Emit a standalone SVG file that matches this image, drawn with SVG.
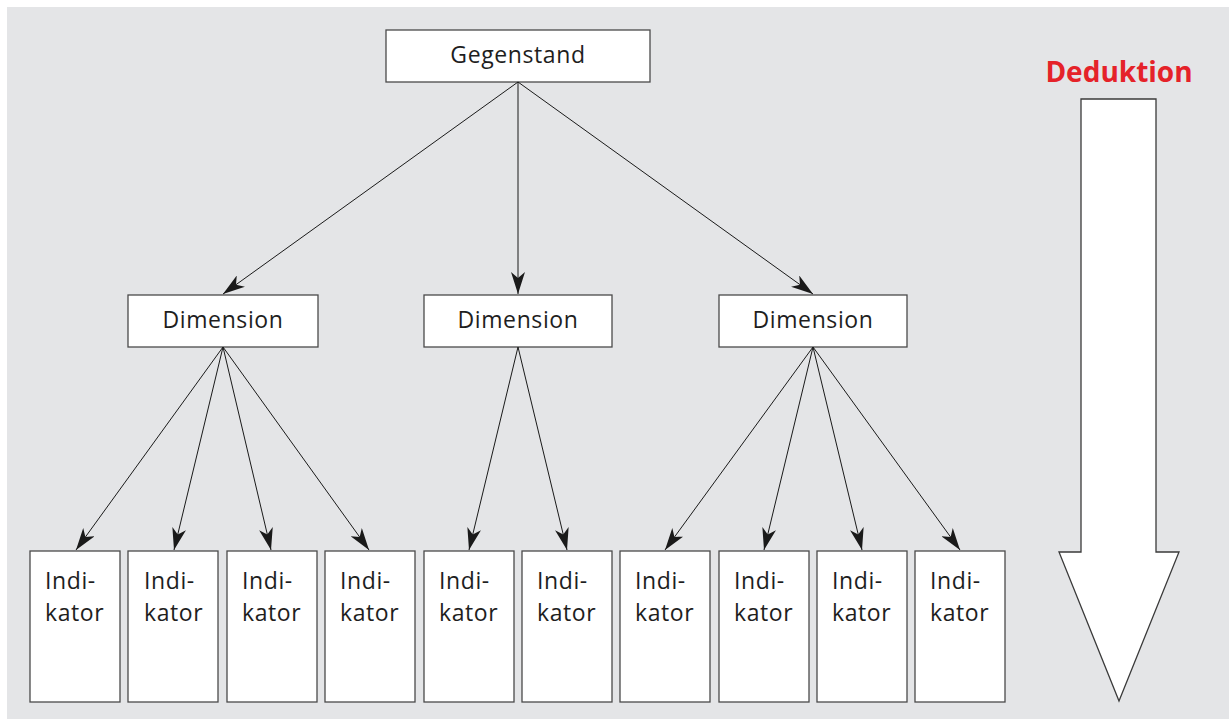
<svg xmlns="http://www.w3.org/2000/svg" width="1229" height="719" viewBox="0 0 1229 719">
  <defs>
    <marker id="head" viewBox="0 0 22 14" refX="22" refY="7" markerWidth="22" markerHeight="14" markerUnits="userSpaceOnUse" orient="auto">
      <path d="M0,0 L22,7 L0,14 L6,7 Z" fill="#1a1a1a"/>
    </marker>
  </defs>
  <style>
    .box { fill: #ffffff; stroke: #4a4a4a; stroke-width: 1.3; }
    .lbl { font-family: "Open Sans", "Noto Sans", sans-serif; font-size: 23px; fill: #1e1e1e; letter-spacing: 0.6px; }
    .mid { text-anchor: middle; }
    .edge { stroke: #1a1a1a; stroke-width: 1; fill: none; marker-end: url(#head); }
  </style>

  <!-- panel background -->
  <rect x="7" y="7" width="1222" height="712" fill="#e4e5e7"/>

  <!-- root -->
  <g id="gegenstand">
    <rect class="box" x="386" y="30" width="264" height="52"/>
    <text class="lbl mid" x="518" y="63">Gegenstand</text>
  </g>

  <!-- dimensions -->
  <g id="dimension-1">
    <rect class="box" x="128" y="295" width="190" height="52"/>
    <text class="lbl mid" x="223" y="328">Dimension</text>
  </g>
  <g id="dimension-2">
    <rect class="box" x="424" y="295" width="188" height="52"/>
    <text class="lbl mid" x="518" y="328">Dimension</text>
  </g>
  <g id="dimension-3">
    <rect class="box" x="719" y="295" width="188" height="52"/>
    <text class="lbl mid" x="813" y="328">Dimension</text>
  </g>

  <!-- indicators -->
  <g id="indikator-1"><rect class="box" x="30" y="551" width="90" height="151"/><text class="lbl" x="45" y="589">Indi-</text><text class="lbl" x="45" y="621">kator</text></g>
  <g id="indikator-2"><rect class="box" x="128" y="551" width="90" height="151"/><text class="lbl" x="144" y="589">Indi-</text><text class="lbl" x="144" y="621">kator</text></g>
  <g id="indikator-3"><rect class="box" x="227" y="551" width="90" height="151"/><text class="lbl" x="242" y="589">Indi-</text><text class="lbl" x="242" y="621">kator</text></g>
  <g id="indikator-4"><rect class="box" x="325" y="551" width="90" height="151"/><text class="lbl" x="340" y="589">Indi-</text><text class="lbl" x="340" y="621">kator</text></g>
  <g id="indikator-5"><rect class="box" x="424" y="551" width="90" height="151"/><text class="lbl" x="439" y="589">Indi-</text><text class="lbl" x="439" y="621">kator</text></g>
  <g id="indikator-6"><rect class="box" x="522" y="551" width="90" height="151"/><text class="lbl" x="537" y="589">Indi-</text><text class="lbl" x="537" y="621">kator</text></g>
  <g id="indikator-7"><rect class="box" x="620" y="551" width="90" height="151"/><text class="lbl" x="635" y="589">Indi-</text><text class="lbl" x="635" y="621">kator</text></g>
  <g id="indikator-8"><rect class="box" x="719" y="551" width="90" height="151"/><text class="lbl" x="734" y="589">Indi-</text><text class="lbl" x="734" y="621">kator</text></g>
  <g id="indikator-9"><rect class="box" x="817" y="551" width="90" height="151"/><text class="lbl" x="832" y="589">Indi-</text><text class="lbl" x="832" y="621">kator</text></g>
  <g id="indikator-10"><rect class="box" x="915" y="551" width="90" height="151"/><text class="lbl" x="930" y="589">Indi-</text><text class="lbl" x="930" y="621">kator</text></g>

  <!-- connectors -->
  <g id="connectors">
    <line class="edge" x1="518" y1="82" x2="223" y2="294"/>
    <line class="edge" x1="518" y1="82" x2="518" y2="294"/>
    <line class="edge" x1="518" y1="82" x2="813" y2="294"/>

    <line class="edge" x1="223" y1="347" x2="76" y2="550"/>
    <line class="edge" x1="223" y1="347" x2="174" y2="550"/>
    <line class="edge" x1="223" y1="347" x2="271" y2="550"/>
    <line class="edge" x1="223" y1="347" x2="369" y2="550"/>

    <line class="edge" x1="518" y1="347" x2="469" y2="550"/>
    <line class="edge" x1="518" y1="347" x2="567" y2="550"/>

    <line class="edge" x1="813" y1="347" x2="665" y2="550"/>
    <line class="edge" x1="813" y1="347" x2="764" y2="550"/>
    <line class="edge" x1="813" y1="347" x2="862" y2="550"/>
    <line class="edge" x1="813" y1="347" x2="960" y2="550"/>
  </g>

  <!-- deduction arrow -->
  <g id="deduktion">
    <text x="1119" y="82" text-anchor="middle" font-family="'Open Sans', 'Noto Sans', sans-serif" font-size="28" font-weight="bold" fill="#e52229">Deduktion</text>
    <path d="M1081,99 L1156,99 L1156,552 L1179,552 L1119,701 L1059,552 L1081,552 Z" fill="#ffffff" stroke="#3a3a3a" stroke-width="1.3"/>
  </g>
</svg>
